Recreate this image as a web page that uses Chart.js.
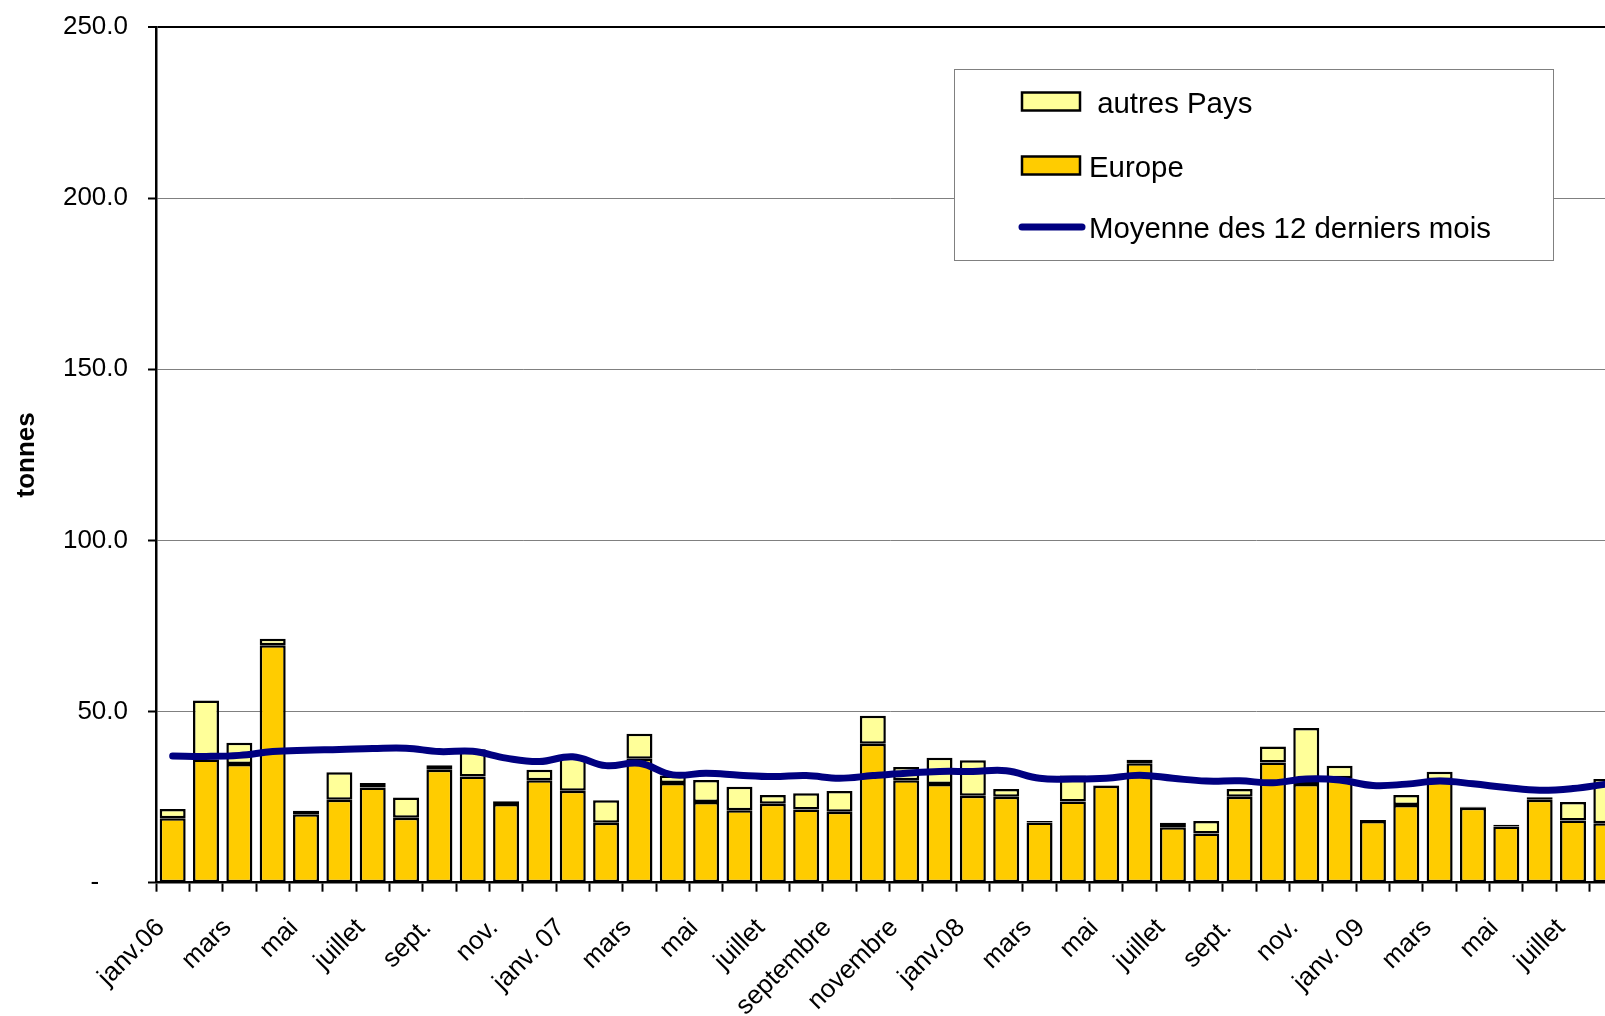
<!DOCTYPE html>
<html><head><meta charset="utf-8">
<script src="https://cdn.jsdelivr.net/npm/chart.js@4/dist/chart.umd.min.js"></script>
<style>
html,body{margin:0;padding:0;background:#fff;overflow:hidden;width:1605px;height:1016px}
#wrap{position:absolute;left:0;top:0;width:1623px;height:1016px}
</style></head>
<body><div id="wrap"><canvas id="c"></canvas></div>
<script>
const months = ['janv.06','févr.','mars','avr.','mai','juin','juillet','août','sept.','oct.','nov.','déc.',
  'janv. 07','févr.','mars','avr.','mai','juin','juillet','août','septembre','octobre','novembre','décembre',
  'janv.08','févr.','mars','avr.','mai','juin','juillet','août','sept.','oct.','nov.','déc.',
  'janv. 09','févr.','mars','avr.','mai','juin','juillet','août'];
const tickLabels = ['janv.06','','mars','','mai','','juillet','','sept.','','nov.','',
  'janv. 07','','mars','','mai','','juillet','','septembre','','novembre','',
  'janv.08','','mars','','mai','','juillet','','sept.','','nov.','',
  'janv. 09','','mars','','mai','','juillet',''];
const europe = [18.8,36.0,34.7,69.4,20.0,24.2,27.8,19.0,33.0,31.0,23.0,29.9,
  26.9,17.5,36.2,29.1,23.6,21.2,23.1,21.4,20.7,40.6,29.9,28.8,
  25.4,25.1,17.6,23.7,28.3,34.9,16.2,14.4,25.1,35.1,28.8,30.5,
  18.0,22.7,30.0,21.9,16.4,24.2,18.2,17.4];
const autresPays = [2.7,17.2,6.2,1.9,1.0,8.1,1.3,5.9,1.3,8.0,0.8,3.1,
  9.6,6.6,7.3,2.2,6.4,6.8,2.5,4.7,6.1,8.2,3.9,7.7,
  10.4,2.3,0.4,7.6,0.2,1.0,1.3,3.6,2.3,4.7,16.4,3.7,
  0.3,2.9,2.4,0.3,0.5,0.8,5.4,12.9];
const moyenne12 = [37.0,36.9,37.2,38.3,38.7,38.9,39.2,39.3,38.3,38.4,36.4,35.4,
  36.8,34.2,34.9,31.5,32.0,31.4,31.0,31.3,30.5,31.3,32.0,32.5,
  32.5,32.7,30.5,30.3,30.5,31.4,30.5,29.7,29.75,29.2,30.3,30.0,
  28.4,28.8,29.7,28.9,27.8,27.0,27.5,28.8];
const seriesNames = [' autres Pays','Europe','Moyenne des 12 derniers mois'];
const yMin = 0, yMax = 250, yStep = 50;

Chart.defaults.font.family = "'Liberation Sans', Arial, sans-serif";
Chart.defaults.color = '#000';

const legendBox = {
  id: 'legendBox',
  afterDraw(chart) {
    const ctx = chart.ctx;
    ctx.save();
    ctx.fillStyle = '#fff';
    ctx.fillRect(954, 69, 599, 191);
    ctx.strokeStyle = '#808080';
    ctx.lineWidth = 1;
    ctx.strokeRect(954.5, 69.5, 599, 191);
    ctx.font = "29.4px 'Liberation Sans', Arial, sans-serif";
    ctx.textBaseline = 'middle';
    ctx.textAlign = 'left';
    const items = [
      {ds: chart.data.datasets[2], y: 101.5},
      {ds: chart.data.datasets[1], y: 165.5},
      {ds: chart.data.datasets[0], y: 227}
    ];
    items.forEach(it => {
      if (it.ds.type === 'line') {
        ctx.strokeStyle = it.ds.borderColor;
        ctx.lineWidth = 7;
        ctx.lineCap = 'round';
        ctx.beginPath(); ctx.moveTo(1022, it.y); ctx.lineTo(1082, it.y); ctx.stroke();
      } else {
        ctx.fillStyle = it.ds.backgroundColor;
        ctx.fillRect(1022, it.y - 9, 58, 18);
        ctx.strokeStyle = '#000';
        ctx.lineWidth = 2.5;
        ctx.strokeRect(1022, it.y - 9, 58, 18);
      }
      ctx.fillStyle = '#000';
      ctx.fillText(it.ds.label, 1089, it.y + 3);
    });
    ctx.restore();
  }
};

new Chart(document.getElementById('c'), {
  data: {
    labels: months,
    datasets: [
      {type: 'line', label: seriesNames[2], data: moyenne12, stack: 'avg', order: 0,
       borderColor: '#000080', borderWidth: 7, tension: 0.4, pointRadius: 0,
       borderCapStyle: 'round', borderJoinStyle: 'round', fill: false},
      {type: 'bar', label: seriesNames[1], data: europe, stack: 's', order: 1,
       backgroundColor: '#FFCC00', borderColor: '#000', borderWidth: 2.5, borderSkipped: false,
       barPercentage: 0.78, categoryPercentage: 1.0},
      {type: 'bar', label: seriesNames[0], data: autresPays, stack: 's', order: 1,
       backgroundColor: '#FFFF99', borderColor: '#000', borderWidth: 2.5, borderSkipped: false,
       barPercentage: 0.78, categoryPercentage: 1.0}
    ]
  },
  options: {
    responsive: true,
    maintainAspectRatio: false,
    animation: false,
    layout: {padding: {top: 27, right: 0, bottom: 0, left: 0}},
    plugins: {legend: {display: false}, tooltip: {enabled: false}},
    scales: {
      x: {
        stacked: true,
        offset: true,
        afterFit: s => { s.height = 133.3; s.paddingLeft = 0; s.paddingRight = 0; },
        grid: {offset: true, drawOnChartArea: false, drawTicks: true, tickLength: 9, tickColor: '#000', tickWidth: 2},
        border: {display: true, color: '#000', width: 2.5},
        ticks: {
          autoSkip: false, maxRotation: 45, minRotation: 45, padding: 21, labelOffset: -12,
          font: {size: 26}, color: '#000',
          callback: (v, i) => tickLabels[i]
        }
      },
      y: {
        stacked: true,
        min: yMin, max: yMax,
        afterFit: s => { s.width = 156; s.paddingTop = 0; s.paddingBottom = 0; },
        title: {display: true, text: 'tonnes', font: {size: 26, weight: 'bold'}, color: '#000', padding: {top: 11, bottom: 0}},
        grid: {
          color: c => c.tick && c.tick.value === yMax ? '#000' : '#808080',
          lineWidth: c => c.tick && c.tick.value === yMax ? 2 : 1,
          drawTicks: true, tickLength: 8, tickColor: '#000', tickWidth: 2
        },
        border: {display: true, color: '#000', width: 2.5},
        ticks: {
          stepSize: yStep, padding: 20, font: {size: 26}, color: '#000',
          callback: v => v === 0 ? '-\u2007\u2007' : Number(v).toFixed(1)
        }
      }
    }
  },
  plugins: [legendBox]
});
</script>
</body></html>
